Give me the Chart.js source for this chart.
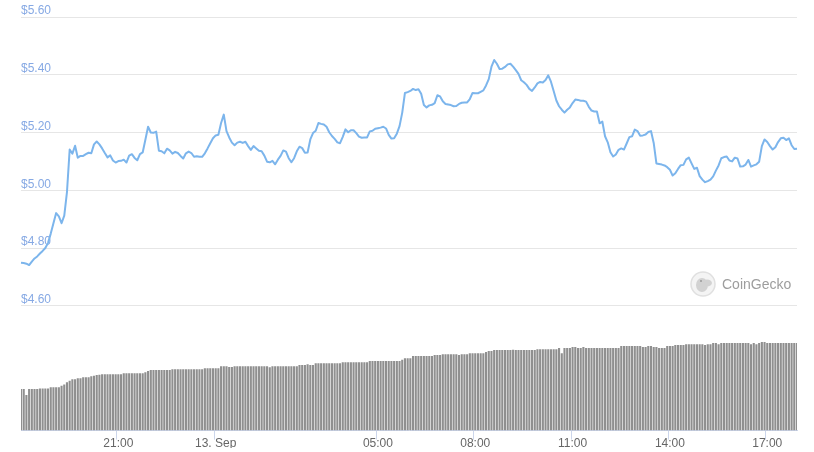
<!DOCTYPE html>
<html>
<head>
<meta charset="utf-8">
<script src="https://cdn.jsdelivr.net/npm/chart.js@4.4.0/dist/chart.umd.min.js"></script>
<style>
  html, body { margin: 0; padding: 0; background: #fff; }
</style>
</head>
<body>
<canvas id="chart" width="814" height="452"></canvas>
<script>
// 24h of 5-minute samples, starting 12 Sep 18:00
const prices = [
  4.749, 4.748, 4.746, 4.741, 4.753, 4.764, 4.771, 4.781, 4.790, 4.800,
  4.818, 4.850, 4.886, 4.921, 4.910, 4.886, 4.912, 4.994, 5.141, 5.127,
  5.154, 5.113, 5.119, 5.119, 5.125, 5.130, 5.128, 5.159, 5.169, 5.159,
  5.145, 5.129, 5.114, 5.121, 5.103, 5.096, 5.101, 5.102, 5.106, 5.096,
  5.120, 5.125, 5.112, 5.104, 5.125, 5.131, 5.175, 5.220, 5.200, 5.199,
  5.203, 5.137, 5.135, 5.128, 5.144, 5.138, 5.127, 5.133, 5.129, 5.119,
  5.110, 5.128, 5.134, 5.129, 5.116, 5.118, 5.116, 5.116, 5.128, 5.145,
  5.163, 5.180, 5.190, 5.192, 5.233, 5.262, 5.205, 5.183, 5.165, 5.156,
  5.165, 5.168, 5.164, 5.168, 5.153, 5.140, 5.153, 5.145, 5.137, 5.135,
  5.120, 5.099, 5.097, 5.102, 5.090, 5.106, 5.119, 5.138, 5.134, 5.111,
  5.097, 5.111, 5.135, 5.151, 5.146, 5.130, 5.131, 5.176, 5.198, 5.206,
  5.233, 5.230, 5.228, 5.220, 5.201, 5.188, 5.178, 5.166, 5.163, 5.185,
  5.211, 5.201, 5.208, 5.208, 5.198, 5.186, 5.182, 5.183, 5.183, 5.204,
  5.206, 5.213, 5.215, 5.217, 5.220, 5.214, 5.192, 5.179, 5.180, 5.196,
  5.222, 5.269, 5.337, 5.340, 5.344, 5.351, 5.347, 5.350, 5.334, 5.295,
  5.287, 5.294, 5.296, 5.302, 5.329, 5.325, 5.308, 5.299, 5.297, 5.295,
  5.291, 5.292, 5.299, 5.303, 5.304, 5.304, 5.316, 5.337, 5.336, 5.336,
  5.341, 5.346, 5.363, 5.385, 5.428, 5.451, 5.438, 5.420, 5.421, 5.427,
  5.436, 5.438, 5.428, 5.416, 5.403, 5.381, 5.374, 5.365, 5.351, 5.344,
  5.356, 5.370, 5.375, 5.373, 5.382, 5.398, 5.376, 5.344, 5.311, 5.291,
  5.279, 5.269, 5.279, 5.287, 5.302, 5.314, 5.313, 5.310, 5.310, 5.307,
  5.289, 5.276, 5.273, 5.273, 5.232, 5.238, 5.187, 5.166, 5.132, 5.117,
  5.124, 5.140, 5.145, 5.141, 5.162, 5.184, 5.187, 5.210, 5.205, 5.189,
  5.190, 5.193, 5.202, 5.205, 5.164, 5.093, 5.091, 5.089, 5.086, 5.080,
  5.071, 5.051, 5.059, 5.074, 5.087, 5.088, 5.107, 5.113, 5.093, 5.074,
  5.078, 5.049, 5.037, 5.028, 5.032, 5.037, 5.048, 5.068, 5.086, 5.111,
  5.115, 5.117, 5.103, 5.100, 5.113, 5.110, 5.082, 5.083, 5.089, 5.105,
  5.082, 5.086, 5.090, 5.099, 5.153, 5.176, 5.167, 5.153, 5.141, 5.149,
  5.167, 5.180, 5.182, 5.174, 5.180, 5.156, 5.143, 5.144
];

// rolling 24h volume, millions USD
const volumes = [
  13.3, 13.3, 11.4, 13.3, 13.3, 13.3, 13.3, 13.5, 13.5, 13.5,
  13.5, 13.9, 13.9, 13.9, 13.9, 14.4, 14.8, 15.5, 16.0, 16.5,
  16.5, 16.8, 16.8, 17.1, 17.1, 17.1, 17.4, 17.6, 17.8, 17.9,
  18.1, 18.1, 18.1, 18.1, 18.1, 18.1, 18.1, 18.1, 18.4, 18.4,
  18.4, 18.4, 18.4, 18.4, 18.4, 18.4, 18.7, 19.1, 19.4, 19.4,
  19.4, 19.4, 19.4, 19.4, 19.4, 19.4, 19.7, 19.7, 19.7, 19.7,
  19.7, 19.7, 19.7, 19.7, 19.7, 19.7, 19.7, 19.7, 20.0, 20.0,
  20.0, 20.0, 20.0, 20.0, 20.6, 20.6, 20.6, 20.4, 20.4, 20.6,
  20.6, 20.6, 20.6, 20.6, 20.6, 20.6, 20.6, 20.6, 20.6, 20.6,
  20.6, 20.6, 20.3, 20.6, 20.6, 20.6, 20.6, 20.6, 20.6, 20.6,
  20.6, 20.6, 20.6, 21.0, 21.0, 21.0, 21.3, 21.0, 21.0, 21.6,
  21.6, 21.6, 21.6, 21.6, 21.6, 21.6, 21.6, 21.6, 21.6, 21.9,
  21.9, 21.9, 21.9, 21.9, 21.9, 21.9, 21.9, 21.9, 21.9, 22.3,
  22.3, 22.3, 22.3, 22.3, 22.3, 22.3, 22.3, 22.3, 22.3, 22.3,
  22.3, 22.7, 23.2, 23.2, 23.2, 23.9, 23.9, 23.9, 23.9, 23.9,
  23.9, 23.9, 23.9, 24.2, 24.2, 24.2, 24.5, 24.5, 24.5, 24.5,
  24.5, 24.5, 24.2, 24.5, 24.5, 24.5, 24.8, 24.8, 24.8, 24.8,
  24.8, 24.8, 25.2, 25.5, 25.5, 25.8, 25.8, 25.8, 25.8, 25.8,
  25.8, 25.8, 25.9, 25.8, 25.8, 25.8, 25.8, 25.8, 25.8, 25.8,
  25.8, 26.1, 26.1, 26.1, 26.1, 26.1, 26.1, 26.1, 26.1, 26.5,
  24.8, 26.5, 26.5, 26.5, 26.8, 26.8, 26.5, 26.5, 26.8, 26.5,
  26.5, 26.5, 26.5, 26.5, 26.5, 26.5, 26.5, 26.5, 26.5, 26.5,
  26.5, 26.5, 27.1, 27.1, 27.1, 27.1, 27.1, 27.1, 27.1, 27.1,
  26.8, 26.8, 27.1, 27.1, 26.8, 26.8, 26.5, 26.5, 26.5, 27.1,
  27.1, 27.1, 27.4, 27.4, 27.4, 27.4, 27.7, 27.7, 27.7, 27.7,
  27.7, 27.7, 27.7, 27.4, 27.7, 27.7, 28.1, 28.1, 27.7, 28.1,
  28.1, 28.1, 28.1, 28.1, 28.1, 28.1, 28.1, 28.1, 28.1, 28.1,
  27.7, 28.1, 27.7, 28.1, 28.4, 28.4, 28.1, 28.1, 28.1, 28.1,
  28.1, 28.1, 28.1, 28.1, 28.1, 28.1, 28.1, 28.1
];

const tickTimes = ['21:00', '00:00', '05:00', '08:00', '11:00', '14:00', '17:00'];
const tickLabels = ['21:00', '13. Sep', '05:00', '08:00', '11:00', '14:00', '17:00'];

// category labels: one per 5-minute sample
const times = prices.map((p, i) => {
  const m = (18 * 60 + i * 5) % 1440;
  return String(Math.floor(m / 60)).padStart(2, '0') + ':' + String(m % 60).padStart(2, '0');
});

const watermark = {
  id: 'watermark',
  beforeDatasetsDraw(chart) {
    const c = chart.ctx;
    const a = chart.chartArea;
    const cx = a.right - 94, cy = a.top + 267;
    c.save();
    c.beginPath();
    c.arc(cx, cy, 12, 0, Math.PI * 2);
    c.fillStyle = '#f4f4f4';
    c.fill();
    c.lineWidth = 1.5;
    c.strokeStyle = '#e0e0e0';
    c.stroke();
    // gecko head
    c.beginPath();
    c.ellipse(cx - 1, cy + 1, 6, 7, 0, 0, Math.PI * 2);
    c.ellipse(cx + 4, cy - 1, 5, 3.5, 0, 0, Math.PI * 2);
    c.fillStyle = '#d2d2d2';
    c.fill();
    c.beginPath();
    c.arc(cx - 2, cy - 3, 1, 0, Math.PI * 2);
    c.fillStyle = '#9a9a9a';
    c.fill();
    c.font = '14px "Liberation Sans", Arial, sans-serif';
    c.fillStyle = '#9d9d9d';
    c.textBaseline = 'middle';
    c.fillText('CoinGecko', cx + 19, cy + 1);
    c.restore();
  }
};

const isTick = i => tickTimes.includes(times[i]);

Chart.defaults.font.family = '"Liberation Sans", Arial, sans-serif';
Chart.defaults.font.size = 12;

const ctx = document.getElementById('chart').getContext('2d');
new Chart(ctx, {
  type: 'line',
  data: {
    labels: times,
    datasets: [
      {
        type: 'line',
        data: prices,
        yAxisID: 'y',
        borderColor: '#7cb5ec',
        borderWidth: 2,
        pointRadius: 0,
        tension: 0,
        fill: false,
        borderJoinStyle: 'round'
      },
      {
        type: 'bar',
        data: volumes,
        yAxisID: 'y1',
        backgroundColor: '#8f8f8f',
        barPercentage: 0.78,
        categoryPercentage: 1
      }
    ]
  },
  options: {
    responsive: false,
    animation: false,
    layout: { padding: { left: 21, right: 17, top: 17, bottom: 4 } },
    plugins: {
      legend: { display: false },
      tooltip: { enabled: false },
      title: { display: false }
    },
    scales: {
      x: {
        type: 'category',
        offset: false,
        grid: {
          display: true,
          drawOnChartArea: false,
          drawTicks: true,
          tickLength: 9,
          color: c => isTick(c.index) ? '#ccd6eb' : 'rgba(0,0,0,0)'
        },
        border: { display: true, color: '#ccd6eb' },
        ticks: {
          autoSkip: false,
          maxRotation: 0,
          padding: -3,
          color: '#666666',
          callback: (v, i) => {
            const k = tickTimes.indexOf(times[i]);
            return k < 0 ? '' : tickLabels[k];
          }
        }
      },
      y1: {
        position: 'left',
        stack: 'main',
        stackWeight: 124,
        min: 0,
        max: 40,
        ticks: { display: false },
        grid: { display: false, drawTicks: false },
        border: { display: false }
      },
      y: {
        position: 'left',
        stack: 'main',
        stackWeight: 287,
        min: 4.6,
        max: 5.6,
        ticks: {
          stepSize: 0.2,
          mirror: true,
          padding: 0,
          labelOffset: -6,
          color: '#86a9e4',
          callback: v => '$' + v.toFixed(2)
        },
        grid: { color: '#e6e6e6', drawTicks: false },
        border: { display: false }
      }
    }
  },
  plugins: [watermark]
});
</script>
</body>
</html>
